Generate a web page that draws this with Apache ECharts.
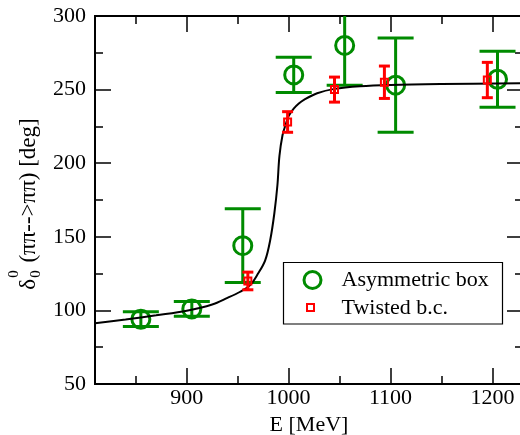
<!DOCTYPE html>
<html>
<head>
<meta charset="utf-8">
<script src="https://cdn.jsdelivr.net/npm/echarts@6/dist/echarts.min.js"></script>
<style>html,body{margin:0;padding:0;background:#fff}#c{width:520px;height:435px}</style>
</head>
<body>
<div id="c"></div>
<script>
// ---- data ----
const xMajorTicks = [900, 1000, 1100, 1200];
const xMinorTicks = [850, 950, 1050, 1150];

const asymE   = [855, 905, 955, 1005, 1055, 1105, 1205];
const asymV   = [94, 101, 144, 260, 280, 253, 257];
const asymErr = [5, 5, 25, 12, 27, 32, 19];

const twistE   = [960, 999, 1045, 1094, 1195];
const twistV   = [120, 228, 250, 255, 256.5];
const twistErr = [6, 7, 8.5, 11, 12];

const curveE = [810, 840, 870, 900, 925, 940, 952, 962, 970, 977, 982, 986, 989, 991, 994, 997, 1000, 1005, 1010, 1015, 1028, 1045, 1070, 1100, 1150, 1230];
const curveV = [91.2, 93.8, 96.7, 99.8, 104, 108.5, 112.5, 117, 125, 134, 148, 166, 185, 205, 219, 226, 232, 237, 240.5, 243, 247.5, 250.5, 252.3, 253.2, 253.8, 254.3];

// ---- styling ----
const GREEN = '#008b00';
const RED = '#ff0000';
const FONT = '"Liberation Serif", "Times New Roman", serif';

const chart = echarts.init(document.getElementById('c'), null, {renderer: 'canvas'});

function errRows(E, V, err) {
  return E.map((e, i) => [e, V[i], V[i] - err[i], V[i] + err[i]]);
}
function errBar(capHalf, color, lw) {
  return function (params, api) {
    const x = api.value(0), lo = api.value(2), hi = api.value(3);
    const pt = api.coord([x, hi]), pb = api.coord([x, lo]);
    const st = {stroke: color, lineWidth: lw};
    return {type: 'group', children: [
      {type: 'line', shape: {x1: pt[0], y1: pt[1], x2: pb[0], y2: pb[1]}, style: st},
      {type: 'line', shape: {x1: pt[0] - capHalf, y1: pt[1], x2: pt[0] + capHalf, y2: pt[1]}, style: st},
      {type: 'line', shape: {x1: pb[0] - capHalf, y1: pb[1], x2: pb[0] + capHalf, y2: pb[1]}, style: st}
    ]};
  };
}

// measure y-axis title pieces
const mctx = document.createElement('canvas').getContext('2d');
function tw(t, s) { mctx.font = s + 'px "Liberation Serif"'; return mctx.measureText(t).width; }
const yt1 = '\u03b4', yt2 = '0', yt3 = ' (\u03c0\u03c0-->\u03c0\u03c0) [deg]';
const w1 = tw(yt1, 23), w2 = tw(yt2, 15), w3 = tw(yt3, 23);
const W = w1 + w2 + w3 + 3;

const axisLineStyle = {color: '#000', width: 2};
const tickStyle = {color: '#000', width: 1.5};

function xAx(pos, vals, len, labels, extra) {
  return Object.assign({
    type: 'value', position: pos, min: 810, max: 1230,
    axisLine: {show: true, lineStyle: axisLineStyle, onZero: false},
    axisTick: {show: true, inside: true, length: len, lineStyle: tickStyle, customValues: vals},
    axisLabel: labels ? {show: true, customValues: vals, formatter: v => String(v), fontFamily: FONT, fontSize: 22, color: '#000', margin: 3} : {show: false},
    splitLine: {show: false}
  }, extra || {});
}
function yAx(pos, labels) {
  return {
    type: 'value', position: pos, min: 50, max: 300, interval: 50,
    axisLine: {show: true, lineStyle: axisLineStyle, onZero: false},
    axisTick: {show: true, inside: true, length: 16, lineStyle: tickStyle},
    minorTick: {show: true, splitNumber: 2, length: 8, lineStyle: tickStyle},
    axisLabel: labels ? {show: true, fontFamily: FONT, fontSize: 22, color: '#000', margin: 9} : {show: false},
    splitLine: {show: false}
  };
}

const option = {
  animation: false,
  backgroundColor: '#fff',
  grid: {left: 95, top: 16, width: 428, height: 368, containLabel: false, outerBoundsMode: 'none'},
  xAxis: [
    xAx('bottom', xMajorTicks, 16, true, {
      name: 'E [MeV]', nameLocation: 'middle', nameGap: 20,
      nameTextStyle: {fontFamily: FONT, fontSize: 22, color: '#000'}
    }),
    xAx('bottom', xMinorTicks, 8, false),
    xAx('top', xMajorTicks, 16, false),
    xAx('top', xMinorTicks, 8, false)
  ],
  yAxis: [yAx('left', true), yAx('right', false)],
  series: [
    {
      type: 'custom', name: 'asymErr', xAxisIndex: 0, yAxisIndex: 0, z: 2, clip: true,
      renderItem: errBar(18, GREEN, 3), data: errRows(asymE, asymV, asymErr)
    },
    {
      type: 'scatter', name: 'Asymmetric box', xAxisIndex: 0, yAxisIndex: 0, z: 3,
      symbol: 'circle', symbolSize: 18,
      itemStyle: {color: 'rgba(0,0,0,0)', borderColor: GREEN, borderWidth: 3, opacity: 1},
      emphasis: {disabled: true},
      data: asymE.map((e, i) => [e, asymV[i]])
    },
    {
      type: 'line', name: 'fit', xAxisIndex: 0, yAxisIndex: 0, z: 4,
      showSymbol: false, smooth: 0.35,
      lineStyle: {color: '#000', width: 2},
      data: curveE.map((e, i) => [e, curveV[i]])
    },
    {
      type: 'custom', name: 'twistErr', xAxisIndex: 0, yAxisIndex: 0, z: 5, clip: true,
      renderItem: errBar(5.5, RED, 3), data: errRows(twistE, twistV, twistErr)
    },
    {
      type: 'scatter', name: 'Twisted b.c.', xAxisIndex: 0, yAxisIndex: 0, z: 6,
      symbol: 'rect', symbolSize: 7,
      itemStyle: {color: 'rgba(0,0,0,0)', borderColor: RED, borderWidth: 2, opacity: 1},
      emphasis: {disabled: true},
      data: twistE.map((e, i) => [e, twistV[i]])
    }
  ],
  graphic: [
    {
      type: 'group', x: 29, y: 204, rotation: Math.PI / 2, z: 10,
      children: [
        {type: 'text', x: -W / 2, y: 0, style: {text: yt1, font: '23px ' + FONT, fill: '#000', verticalAlign: 'middle'}},
        {type: 'text', x: -W / 2 + w1 + 1, y: 7, style: {text: yt2, font: '15px ' + FONT, fill: '#000', verticalAlign: 'middle'}},
        {type: 'text', x: -W / 2 + w1 + 1, y: -15, style: {text: yt2, font: '15px ' + FONT, fill: '#000', verticalAlign: 'middle'}},
        {type: 'text', x: -W / 2 + w1 + w2 + 3, y: 0, style: {text: yt3, font: '23px ' + FONT, fill: '#000', verticalAlign: 'middle'}}
      ]
    },
    {
      type: 'group', z: 20,
      children: [
        {type: 'rect', shape: {x: 283.5, y: 262.5, width: 219, height: 61.5}, style: {fill: '#fff', stroke: '#000', lineWidth: 1.2}},
        {type: 'circle', shape: {cx: 312.5, cy: 280, r: 8.5}, style: {fill: 'rgba(0,0,0,0)', stroke: GREEN, lineWidth: 3}},
        {type: 'text', x: 341.5, y: 280, style: {text: 'Asymmetric box', font: '22px ' + FONT, fill: '#000', verticalAlign: 'middle'}},
        {type: 'rect', shape: {x: 307, y: 304, width: 7, height: 7}, style: {fill: '#fff', stroke: RED, lineWidth: 2}},
        {type: 'text', x: 341.5, y: 308, style: {text: 'Twisted b.c.', font: '22px ' + FONT, fill: '#000', verticalAlign: 'middle'}}
      ]
    }
  ]
};
chart.setOption(option);
</script>
</body>
</html>
